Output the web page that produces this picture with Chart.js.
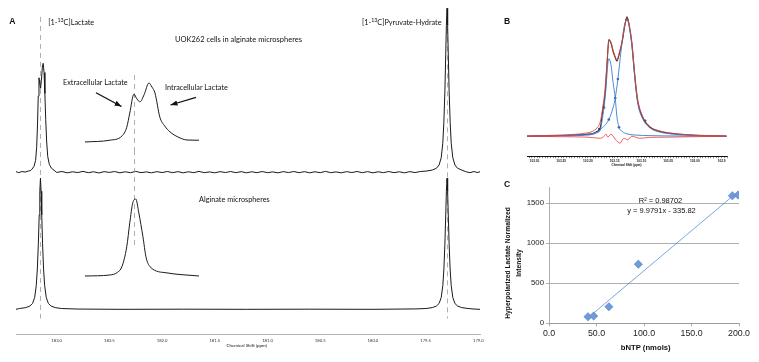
<!DOCTYPE html>
<html lang="en">
<head>
<meta charset="UTF-8" />
<title>Hyperpolarized lactate in UOK262 cells</title>
<style>
  html, body { margin: 0; padding: 0; background: #fff; }
  #fig { position: relative; width: 759px; height: 362px; overflow: hidden; }
  #fig canvas { position: absolute; }
  .lbl { position: absolute; white-space: nowrap; line-height: 1; color: #111; }
  .lbl sup { font-size: 0.72em; vertical-align: baseline; position: relative; top: -0.55em; }
  #ytitleC { position: absolute; font: bold 6.7px "Liberation Sans", Arial, sans-serif; line-height: 11px;
             text-align: center; white-space: nowrap; color: #111; transform: translate(-50%, -50%) rotate(-90deg); }
</style>
</head>
<body>
<div id="fig">
  <canvas id="specA" width="500" height="362" style="left:0;top:0"></canvas>
  <canvas id="insetTop" width="114" height="80" style="left:85px;top:70px"></canvas>
  <canvas id="insetBottom" width="114" height="130" style="left:85px;top:150px"></canvas>
  <canvas id="specB" width="244" height="170" style="left:515px;top:0"></canvas>
  <canvas id="scatterC" width="259" height="192" style="left:500px;top:170px"></canvas>
  <svg width="759" height="362" style="position:absolute;left:0;top:0;pointer-events:none">
    <defs>
      <marker id="ah" markerUnits="userSpaceOnUse" markerWidth="8" markerHeight="6" refX="7" refY="2.7" orient="auto">
        <path d="M0,0 L7,2.7 L0,5.4 z" fill="#111" />
      </marker>
    </defs>
    <line x1="96" y1="92.7" x2="121.5" y2="106.5" stroke="#111" stroke-width="1.3" marker-end="url(#ah)" />
    <line x1="196" y1="97.3" x2="170.5" y2="105" stroke="#111" stroke-width="1.3" marker-end="url(#ah)" />
  </svg>
  <div id="ytitleC" style="left:513px;top:263px">Hyperpolarized Lactate Normalized<br>Intensity</div>
</div>

<script src="https://cdn.jsdelivr.net/npm/chart.js"></script>
<script>
  // ---------- Panel A: 13C spectra, [ppm, intensity] ----------
  const aTicks = [183.0, 182.5, 182.0, 181.5, 181.0, 180.5, 180.0, 179.5, 179.0];
  const lactatePpm = 183.154;
  const pyruvatePpm = 179.297;

  // UOK262 cells in alginate microspheres (upper trace)
  const cellSpectrum = [
    [183.386, 0.004], [183.36, -0.004], [183.33, 0.005], [183.30, 0.001], [183.27, 0.008],
    [183.25, 0.012], [183.235, 0.022], [183.215, 0.045], [183.20, 0.09], [183.19, 0.19],
    [183.182, 0.36], [183.175, 0.58], [183.168, 0.72], [183.161, 0.68], [183.153, 0.64],
    [183.145, 0.70], [183.136, 0.80], [183.128, 0.83], [183.12, 0.76], [183.112, 0.60],
    [183.104, 0.40], [183.095, 0.23], [183.085, 0.12], [183.07, 0.06], [183.05, 0.03],
    [183.025, 0.015], [183.00, -0.002],
    [182.95, 0.005], [182.90, -0.005], [182.85, 0.003], [182.80, -0.003], [182.75, 0.006],
    [182.70, -0.004], [182.65, 0.003], [182.60, -0.006], [182.55, 0.004], [182.50, -0.002],
    [182.45, 0.005], [182.40, -0.005], [182.35, 0.003], [182.30, -0.004], [182.25, 0.006],
    [182.20, -0.004], [182.15, 0.002], [182.10, -0.005], [182.05, 0.004], [182.00, -0.003],
    [181.95, 0.005], [181.90, -0.004], [181.85, 0.004], [181.80, -0.005], [181.75, 0.003],
    [181.70, -0.004], [181.65, 0.006], [181.60, -0.004], [181.55, 0.002], [181.50, -0.005],
    [181.45, 0.004], [181.40, -0.003], [181.35, 0.005], [181.30, -0.004], [181.25, 0.004],
    [181.20, -0.005], [181.15, 0.003], [181.10, -0.004], [181.05, 0.005], [181.00, -0.004],
    [180.95, 0.002], [180.90, -0.005], [180.85, 0.004], [180.80, -0.003], [180.75, 0.005],
    [180.70, -0.004], [180.65, 0.004], [180.60, -0.005], [180.55, 0.003], [180.50, -0.004],
    [180.45, 0.006], [180.40, -0.004], [180.35, 0.002], [180.30, -0.005], [180.25, 0.004],
    [180.20, -0.003], [180.15, 0.005], [180.10, -0.004], [180.05, 0.004], [180.00, -0.005],
    [179.95, 0.003], [179.90, -0.004], [179.85, 0.005], [179.80, -0.004], [179.75, 0.003],
    [179.70, -0.005], [179.65, 0.004], [179.60, -0.003], [179.55, 0.005],
    [179.497, 0.008], [179.437, 0.016], [179.397, 0.03], [179.372, 0.055], [179.352, 0.11],
    [179.337, 0.22], [179.327, 0.38], [179.317, 0.62], [179.309, 0.90], [179.303, 1.12],
    [179.297, 1.25], [179.291, 1.12], [179.285, 0.90], [179.277, 0.62], [179.267, 0.38],
    [179.257, 0.22], [179.242, 0.11], [179.222, 0.055], [179.197, 0.03], [179.157, 0.016],
    [179.12, 0.004], [179.08, -0.004], [179.04, 0.005], [179.01, -0.003], [178.984, 0.003]
  ];

  // Alginate microspheres only (lower trace)
  const alginateSpectrum = [
    [183.386, 0.0], [183.354, 0.006], [183.294, 0.013], [183.254, 0.025], [183.229, 0.045],
    [183.209, 0.09], [183.194, 0.18], [183.184, 0.30], [183.174, 0.50], [183.166, 0.72],
    [183.16, 0.90], [183.154, 1.0], [183.148, 0.90], [183.142, 0.72], [183.134, 0.50],
    [183.124, 0.30], [183.114, 0.18], [183.099, 0.09], [183.079, 0.045], [183.054, 0.025],
    [183.014, 0.013], [182.954, 0.006], [182.8, 0.002], [182.4, 0.0], [181.8, 0.001],
    [181.2, 0.0], [180.6, 0.001], [180.0, 0.0], [179.6, 0.003],
    [179.497, 0.006], [179.437, 0.013], [179.397, 0.025], [179.372, 0.045], [179.352, 0.09],
    [179.337, 0.18], [179.327, 0.30], [179.317, 0.50], [179.309, 0.72], [179.303, 0.90],
    [179.297, 1.0], [179.291, 0.90], [179.285, 0.72], [179.277, 0.50], [179.267, 0.30],
    [179.257, 0.18], [179.242, 0.09], [179.222, 0.045], [179.197, 0.025], [179.157, 0.013],
    [179.097, 0.006], [179.04, 0.002], [178.984, 0.0]
  ];

  // expanded lactate region (insets)
  const insetCells = [
    [183.300, 0.0], [183.234, 0.03], [183.202, 0.10], [183.189, 0.25], [183.181, 0.49],
    [183.170, 0.81], [183.162, 0.73], [183.154, 0.68], [183.143, 0.80], [183.130, 1.0],
    [183.122, 0.93], [183.114, 0.83], [183.101, 0.42], [183.088, 0.27], [183.074, 0.17],
    [183.053, 0.085], [183.029, 0.034], [182.997, 0.03]
  ];
  const insetAlginate = [
    [183.300, 0.0], [183.234, 0.013], [183.213, 0.05], [183.202, 0.12], [183.189, 0.38],
    [183.181, 0.69], [183.173, 0.95], [183.165, 1.0], [183.157, 0.82], [183.146, 0.51],
    [183.138, 0.25], [183.127, 0.12], [183.082, 0.04], [182.997, 0.0]
  ];
  const insetMarkPpm = 183.17;

  // ---------- Panel B: lineshape fit of the lactate doublet ----------
  const bTickValues = [103.30, 103.25, 103.20, 103.15, 103.10, 103.05, 103.00, 102.95];
  const bTickLabels = ['103.30', '103.25', '103.20', '103.15', '103.10', '103.05', '103.00', '102.9'];
  const bObserved = [
    [103.314, 0.0], [103.280, 0.003], [103.252, 0.006], [103.224, 0.01], [103.205, 0.015],
    [103.192, 0.02], [103.183, 0.04], [103.177, 0.07], [103.172, 0.23], [103.168, 0.35],
    [103.164, 0.625], [103.161, 0.81], [103.157, 0.78], [103.153, 0.71], [103.149, 0.66],
    [103.146, 0.63], [103.142, 0.68], [103.136, 0.79], [103.131, 0.93], [103.127, 1.0],
    [103.123, 0.93], [103.118, 0.78], [103.112, 0.48], [103.107, 0.29], [103.097, 0.15],
    [103.084, 0.075], [103.066, 0.04], [103.047, 0.025], [103.028, 0.017], [103.010, 0.01],
    [102.991, 0.006], [102.972, 0.004], [102.954, 0.002], [102.941, 0.0]
  ];
  const bFit = [
    [103.314, 0.002], [103.280, 0.006], [103.252, 0.01], [103.224, 0.016], [103.205, 0.025],
    [103.192, 0.04], [103.183, 0.07], [103.177, 0.12], [103.172, 0.25], [103.168, 0.40],
    [103.164, 0.64], [103.161, 0.80], [103.157, 0.79], [103.153, 0.72], [103.149, 0.665],
    [103.146, 0.64], [103.142, 0.69], [103.136, 0.80], [103.131, 0.93], [103.127, 0.99],
    [103.123, 0.94], [103.118, 0.79], [103.112, 0.50], [103.107, 0.31], [103.097, 0.16],
    [103.084, 0.08], [103.066, 0.045], [103.047, 0.028], [103.028, 0.018], [103.010, 0.012],
    [102.991, 0.008], [102.972, 0.005], [102.954, 0.003], [102.941, 0.002]
  ];
  const bExtracellular = [
    [103.314, 0.0], [103.252, 0.003], [103.205, 0.008], [103.192, 0.015], [103.183, 0.03],
    [103.177, 0.05], [103.174, 0.12], [103.170, 0.24], [103.166, 0.42], [103.163, 0.60],
    [103.161, 0.65], [103.157, 0.60], [103.153, 0.45], [103.149, 0.32], [103.146, 0.17],
    [103.142, 0.075], [103.136, 0.04], [103.127, 0.02], [103.112, 0.01], [103.084, 0.005],
    [103.028, 0.002], [102.941, 0.0]
  ];
  const bIntracellular = [
    [103.314, 0.0], [103.252, 0.006], [103.205, 0.015], [103.192, 0.022], [103.183, 0.035],
    [103.177, 0.055], [103.161, 0.14], [103.153, 0.24], [103.149, 0.32], [103.144, 0.48],
    [103.138, 0.72], [103.133, 0.90], [103.127, 0.98], [103.123, 0.92], [103.118, 0.76],
    [103.112, 0.47], [103.107, 0.28], [103.097, 0.14], [103.084, 0.07], [103.066, 0.035],
    [103.047, 0.02], [103.028, 0.012], [102.991, 0.005], [102.941, 0.0]
  ];
  const bMarkers = [
    [103.170, 0.24], [103.149, 0.32], [103.142, 0.075], [103.179, 0.06], [103.161, 0.14],
    [103.144, 0.48], [103.127, 0.98], [103.093, 0.13]
  ];
  const bResidual = [
    [103.314, 0.0], [103.25, -0.004], [103.20, -0.008], [103.177, -0.017], [103.171, -0.004],
    [103.166, 0.017], [103.163, -0.008], [103.157, 0.017], [103.149, -0.025], [103.140, -0.058],
    [103.133, -0.017], [103.126, -0.03], [103.118, 0.0], [103.103, -0.017], [103.085, -0.01],
    [103.053, -0.008], [103.0, -0.004], [102.941, 0.0]
  ];

  // ---------- Panel C: lactate signal vs bNTP ----------
  const bntp = [41, 47, 63, 94, 193, 199];
  const lactateSignal = [82, 91, 207, 737, 1591, 1600];
  const cXTicks = [0, 50, 100, 150, 200];
  const cYTicks = [0, 500, 1000, 1500];

  // ---------- helpers ----------
  Chart.defaults.font.family = 'Lato, sans-serif';
  Chart.defaults.color = '#222';

  const toXY = (arr, offset = 0) => arr.map(([x, y]) => ({ x, y: y + offset }));

  const dashLines = {
    id: 'dashLines',
    beforeDatasetsDraw(chart, args, opts) {
      const { ctx, scales: { x, y } } = chart;
      ctx.save();
      ctx.strokeStyle = opts.color || '#999';
      ctx.lineWidth = opts.width || 0.8;
      ctx.setLineDash(opts.dash || [5, 4]);
      (opts.lines || []).forEach(l => {
        const px = Math.round(x.getPixelForValue(l.at)) + 0.5;
        ctx.beginPath();
        ctx.moveTo(px, y.getPixelForValue(l.from));
        ctx.lineTo(px, y.getPixelForValue(l.to));
        ctx.stroke();
      });
      ctx.restore();
    }
  };

  const spectrumLine = { borderColor: '#1a1a1a', borderWidth: 1, pointRadius: 0, fill: false, tension: 0 };
  const quiet = { legend: { display: false }, tooltip: { enabled: false } };

  // Panel A main spectra
  const upperOffset = 1.046;
  new Chart(document.getElementById('specA'), {
    type: 'line',
    data: {
      datasets: [
        { data: toXY(cellSpectrum, upperOffset), ...spectrumLine },
        { data: toXY(alginateSpectrum), ...spectrumLine }
      ]
    },
    options: {
      responsive: false, animation: false, events: [],
      layout: { padding: { left: 16, right: 20, top: 0, bottom: 14.6 } },
      plugins: {
        ...quiet,
        dashLines: {
          color: '#9a9a9a', width: 0.8, dash: [5, 4],
          lines: [
            { at: lactatePpm, from: 2.23, to: -0.07 },
            { at: pyruvatePpm, from: 2.28, to: -0.07 }
          ]
        }
      },
      scales: {
        x: {
          type: 'linear', reverse: true, min: 178.984, max: 183.386,
          afterBuildTicks: s => { s.ticks = aTicks.map(v => ({ value: v })); },
          ticks: { callback: v => v.toFixed(1), font: { size: 4.2 }, color: '#333', padding: 4, maxRotation: 0, autoSkip: false },
          grid: { display: false, drawTicks: false, tickLength: 0 },
          border: { display: true, color: '#b5b5b5', dash: [1, 1.5], width: 1 }
        },
        y: { display: false, min: -0.191, max: 2.359 }
      }
    },
    plugins: [dashLines]
  });

  // Panel A insets
  function inset(id, points, yMin, yMax, dashFrom, dashTo) {
    new Chart(document.getElementById(id), {
      type: 'line',
      data: { datasets: [{ data: toXY(points), ...spectrumLine, cubicInterpolationMode: 'monotone' }] },
      options: {
        responsive: false, animation: false, events: [],
        layout: { padding: 0 },
        plugins: {
          ...quiet,
          dashLines: { color: '#9a9a9a', width: 0.8, dash: [5, 4], lines: [{ at: insetMarkPpm, from: dashFrom, to: dashTo }] }
        },
        scales: {
          x: { type: 'linear', reverse: true, min: 182.997, max: 183.30, display: false },
          y: { min: yMin, max: yMax, display: false }
        }
      },
      plugins: [dashLines]
    });
  }
  inset('insetTop', insetCells, -0.136, 1.22, 1.136, -0.136);
  inset('insetBottom', insetAlginate, -0.052, 1.636, 1.636, 0.364);

  // Panel B
  const bMinorStep = 0.005;
  const smooth = { pointRadius: 0, fill: false, cubicInterpolationMode: 'monotone' };
  new Chart(document.getElementById('specB'), {
    type: 'line',
    data: {
      datasets: [
        { data: toXY(bResidual), borderColor: '#e8383d', borderWidth: 0.8, ...smooth },
        { data: toXY(bFit), borderColor: '#e0452f', borderWidth: 0.9, ...smooth },
        { data: toXY(bExtracellular), borderColor: '#3b7dd0', borderWidth: 0.9, ...smooth },
        { data: toXY(bIntracellular), borderColor: '#3b7dd0', borderWidth: 0.9, ...smooth },
        { data: toXY(bObserved), borderColor: '#2a2a2a', borderWidth: 1.1, ...smooth },
        { data: toXY(bMarkers), showLine: false, pointRadius: 1.3, pointBackgroundColor: '#2c5fa8', pointBorderWidth: 0 }
      ]
    },
    options: {
      responsive: false, animation: false, events: [],
      layout: { padding: { left: 12, right: 32, top: 7, bottom: 5 } },
      plugins: quiet,
      scales: {
        x: {
          type: 'linear', reverse: true, min: 102.94, max: 103.314,
          afterBuildTicks: s => {
            const t = [];
            for (let k = Math.ceil(s.min / bMinorStep - 1e-9); k * bMinorStep <= s.max + 1e-9; k++) {
              t.push({ value: +(k * bMinorStep).toFixed(3) });
            }
            s.ticks = t;
          },
          ticks: {
            callback: v => { const i = bTickValues.findIndex(b => Math.abs(b - v) < 1e-6); return i >= 0 ? bTickLabels[i] : ''; },
            font: { size: 3.2, weight: 'bold', family: '"Liberation Sans", Arial, sans-serif' },
            color: '#222', padding: 1.5, maxRotation: 0, minRotation: 0, autoSkip: false
          },
          grid: { drawOnChartArea: false, tickLength: 2, color: '#111', lineWidth: 0.5 },
          border: { display: true, color: '#111', width: 1 }
        },
        y: { display: false, min: -0.167, max: 1.083 }
      }
    }
  });

  // Panel C
  function linFit(xs, ys) {
    const n = xs.length;
    const mx = xs.reduce((a, b) => a + b, 0) / n;
    const my = ys.reduce((a, b) => a + b, 0) / n;
    let sxy = 0, sxx = 0;
    xs.forEach((x, i) => { sxy += (x - mx) * (ys[i] - my); sxx += (x - mx) * (x - mx); });
    const m = sxy / sxx;
    return { m, b: my - m * mx };
  }
  const fit = linFit(bntp, lactateSignal);
  const xLo = Math.min(...bntp), xHi = Math.max(...bntp);
  const cFont = '"Liberation Sans", Arial, sans-serif';

  new Chart(document.getElementById('scatterC'), {
    type: 'scatter',
    data: {
      datasets: [
        { data: [{ x: xLo, y: fit.b + fit.m * xLo }, { x: xHi, y: fit.b + fit.m * xHi }],
          showLine: true, borderColor: '#5a8fd4', borderWidth: 0.8, pointRadius: 0, order: 2 },
        { data: bntp.map((x, i) => ({ x, y: lactateSignal[i] })),
          pointStyle: 'rectRot', pointRadius: 4.2, backgroundColor: '#6f9bd9', borderColor: '#5683c6', borderWidth: 0.5, order: 1 }
      ]
    },
    options: {
      responsive: false, animation: false, events: [],
      layout: { padding: { left: 24.7, right: 20, top: 17, bottom: 21.1 } },
      plugins: quiet,
      scales: {
        x: {
          type: 'linear', min: 0, max: 200,
          afterBuildTicks: s => { s.ticks = cXTicks.map(v => ({ value: v })); },
          ticks: { callback: v => v.toFixed(1), font: { size: 8.8, family: cFont }, color: '#222', padding: 2, maxRotation: 0 },
          grid: { drawOnChartArea: false, tickLength: 3, color: '#999', lineWidth: 0.8 },
          border: { color: '#999', width: 0.8 }
        },
        y: {
          min: 0, max: 1700,
          afterBuildTicks: s => { s.ticks = cYTicks.map(v => ({ value: v })); },
          ticks: { callback: v => String(v), font: { size: 7.8, family: cFont }, color: '#222', padding: 2 },
          grid: { tickLength: 3, color: '#9a9a9a', lineWidth: 0.8 },
          border: { color: '#999', width: 0.8 }
        }
      }
    }
  });

  // ---------- text labels ----------
  const lato = 'Lato, sans-serif';
  const labels = [
    { html: 'A', x: 9.3, base: 24.3, size: 8.6, family: cFont, bold: true },
    { html: 'B', x: 504, base: 24.3, size: 8.6, family: cFont, bold: true },
    { html: 'C', x: 504, base: 187.7, size: 8.6, family: cFont, bold: true },
    { html: '[1-<sup>13</sup>C]Lactate', x: 48.3, base: 25, size: 7.3, family: lato },
    { html: '[1-<sup>13</sup>C]Pyruvate-Hydrate', x: 362, base: 25, size: 7.3, family: lato },
    { html: 'UOK262 cells in alginate microspheres', x: 175, base: 43, size: 7.5, family: lato },
    { html: 'Extracellular Lactate', x: 63, base: 85.5, size: 7.3, family: lato },
    { html: 'Intracellular Lactate', x: 165, base: 90, size: 7.3, family: lato },
    { html: 'Alginate microspheres', x: 199, base: 202, size: 7.3, family: lato },
    { html: 'Chemical Shift (ppm)', x: 246.7, base: 347.5, size: 4.5, family: lato, center: true },
    { html: 'Chemical Shift (ppm)', x: 626.5, base: 166.5, size: 3, family: cFont, bold: true, center: true },
    { html: 'R² = 0.98702', x: 660.5, base: 203.3, size: 7.5, family: cFont, center: true },
    { html: 'y = 9.9791x - 335.82', x: 661.5, base: 213, size: 7.5, family: cFont, center: true },
    { html: 'bNTP (nmols)', x: 645.7, base: 350.8, size: 7.7, family: cFont, bold: true, center: true }
  ];
  const fig = document.getElementById('fig');
  labels.forEach(l => {
    const d = document.createElement('div');
    d.className = 'lbl';
    d.innerHTML = l.html;
    const k = l.family === lato ? 0.887 : 0.8465;
    d.style.font = (l.bold ? 'bold ' : '') + l.size + 'px ' + l.family;
    d.style.lineHeight = '1';
    d.style.left = l.x + 'px';
    d.style.top = (l.base - k * l.size) + 'px';
    if (l.center) d.style.transform = 'translateX(-50%)';
    fig.appendChild(d);
  });
</script>
</body>
</html>
